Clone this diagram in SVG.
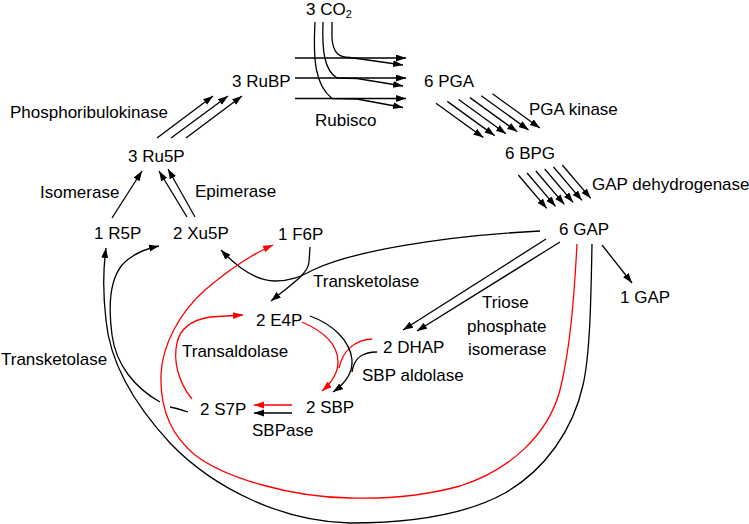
<svg xmlns="http://www.w3.org/2000/svg" width="749" height="524" viewBox="0 0 749 524">
<defs>
<style>
text{font-family:"Liberation Sans",Arial,sans-serif;font-size:17px;fill:#000}
.k{fill:none;stroke:#000;stroke-width:1.3}
.r{fill:none;stroke:#f00;stroke-width:1.3}
.ka{marker-end:url(#ah)}
.ra{marker-end:url(#rh)}
</style>
<marker id="ah" markerUnits="userSpaceOnUse" markerWidth="11" markerHeight="9" refX="10" refY="3.5" orient="auto" viewBox="0 0 11 9"><path d="M0,0 L10,3.5 L0,7 Z" fill="#000"/></marker>
<marker id="rh" markerUnits="userSpaceOnUse" markerWidth="11" markerHeight="9" refX="10" refY="3.5" orient="auto" viewBox="0 0 11 9"><path d="M0,0 L10,3.5 L0,7 Z" fill="#f00"/></marker>
</defs>
<rect width="749" height="524" fill="#fff"/>

<g id="connectors">
<!-- Rubisco -->
<path class="k ka" d="M295,58 L406,58"/>
<path class="k ka" d="M295,78 L406,78"/>
<path class="k ka" d="M295,98.5 L406,98.5"/>
<path class="k ka" d="M332,22 L332,38 C333,52 338,57.5 350,57.5 L403,65"/>
<path class="k ka" d="M323,22 C322,50 324,70 337,78 L357,78.5 L403,86"/>
<path class="k ka" d="M315,22 C313,60 315,85 332,98.5 L357,99 L403,107.5"/>
<!-- Phosphoribulokinase -->
<path class="k ka" d="M157,138 L213,96"/>
<path class="k ka" d="M171,138 L228,96"/>
<path class="k ka" d="M186,138 L242,96"/>
<!-- PGA kinase -->
<path class="k ka" d="M436,103.3 L483.3,137.5"/>
<path class="k ka" d="M447.3,101.4 L494.6,135.6"/>
<path class="k ka" d="M458.6,99.5 L505.9,133.7"/>
<path class="k ka" d="M469.9,97.6 L517.2,131.8"/>
<path class="k ka" d="M481.2,95.7 L528.5,129.9"/>
<path class="k ka" d="M492.5,93.8 L539.8,128"/>
<!-- GAP dehydrogenase -->
<path class="k ka" d="M518.3,175 L546.7,208.3"/>
<path class="k ka" d="M527.1,173 L555.5,206.3"/>
<path class="k ka" d="M535.9,171 L564.3,204.3"/>
<path class="k ka" d="M544.7,169 L573.1,202.3"/>
<path class="k ka" d="M553.5,167 L581.9,200.3"/>
<path class="k ka" d="M562.3,165 L590.7,198.3"/>
<!-- Isomerase / Epimerase -->
<path class="k ka" d="M112,218 L142,171"/>
<path class="k ka" d="M187,217 L159,171"/>
<path class="k ka" d="M195,217 L168,169"/>
<!-- 6 GAP to 1 GAP -->
<path class="k ka" d="M602,245 L632,283"/>
<!-- Triose phosphate isomerase -->
<path class="k ka" d="M546,239 L403,330"/>
<path class="k ka" d="M560,242 L417,331"/>
<!-- Transketolase (middle) -->
<path class="k ka" d="M540,231 C440,236 350,252 313,270 C300,277 290,281 275,281 C256,281 238,268 221,250"/>
<path class="k ka" d="M310,247 L309,262 C308,274 292,284 271,301"/>
<!-- SBP aldolase -->
<path class="r ra" d="M302,322 C325,332 338,345 338,362 C338,375 330,384 322,391"/>
<path class="r" d="M372,339 C355,340 343,350 339,368"/>
<path class="k ka" d="M310,316 C332,324 350,340 352,360 C353,375 343,385 333,392"/>
<path class="k" d="M377,352 C362,352 354,358 352,372"/>
<!-- SBPase -->
<path class="r ra" d="M292,405 L254,405"/>
<path class="k ka" d="M292,413 L254,413"/>
<!-- Transaldolase -->
<path class="r ra" d="M192,399 C178,382 173,360 177,343 C180,328 192,320 210,317 L243,315"/>
<path class="r ra" d="M577,244 C574,300 570,350 560,390 C548,435 510,470 460,486 C420,497 385,499 350,498 C290,497 225,478 195,455 C168,433 160,405 161,375 C162,345 180,312 205,290 C225,273 248,256 273,245"/>
<!-- Transketolase (left) -->
<path class="k ka" d="M592,244 C591,300 590,355 583,385 C573,430 545,470 505,493 C460,518 400,523 350,523 C285,522 215,490 170,443 C135,405 110,365 106,320 C103,295 103,270 106,248"/>
<path class="k" d="M188,412 C182,410 176,408 170,407"/>
<path class="k ka" d="M160,402 C135,388 116,365 112,335 C108,305 110,280 122,265 C132,254 145,249 159,246"/>
</g>

<g id="n-co2"><text x="306" y="15">3 CO<tspan font-size="11" dy="3">2</tspan></text></g>
<g id="n-rubp"><text x="232" y="87">3 RuBP</text></g>
<g id="n-pga"><text x="424" y="87">6 PGA</text></g>
<g id="n-bpg"><text x="505" y="159">6 BPG</text></g>
<g id="n-gap6"><text x="559" y="235">6 GAP</text></g>
<g id="n-gap1"><text x="620" y="303">1 GAP</text></g>
<g id="n-ru5p"><text x="128" y="162">3 Ru5P</text></g>
<g id="n-r5p"><text x="94" y="239">1 R5P</text></g>
<g id="n-xu5p"><text x="173" y="239">2 Xu5P</text></g>
<g id="n-f6p"><text x="278" y="240">1 F6P</text></g>
<g id="n-e4p"><text x="256" y="326">2 E4P</text></g>
<g id="n-dhap"><text x="383" y="353">2 DHAP</text></g>
<g id="n-sbp"><text x="306" y="413">2 SBP</text></g>
<g id="n-s7p"><text x="200" y="415">2 S7P</text></g>

<g id="enzymes">
<text x="315" y="126">Rubisco</text>
<text x="529" y="115">PGA kinase</text>
<text x="592" y="190">GAP dehydrogenase</text>
<text x="10" y="118">Phosphoribulokinase</text>
<text x="40" y="198">Isomerase</text>
<text x="195" y="197">Epimerase</text>
<text x="313" y="287">Transketolase</text>
<text x="482" y="308">Triose</text>
<text x="467" y="332">phosphate</text>
<text x="468" y="355">isomerase</text>
<text x="182" y="357">Transaldolase</text>
<text x="362" y="381">SBP aldolase</text>
<text x="1" y="365">Transketolase</text>
<text x="252" y="436">SBPase</text>
</g>
</svg>
